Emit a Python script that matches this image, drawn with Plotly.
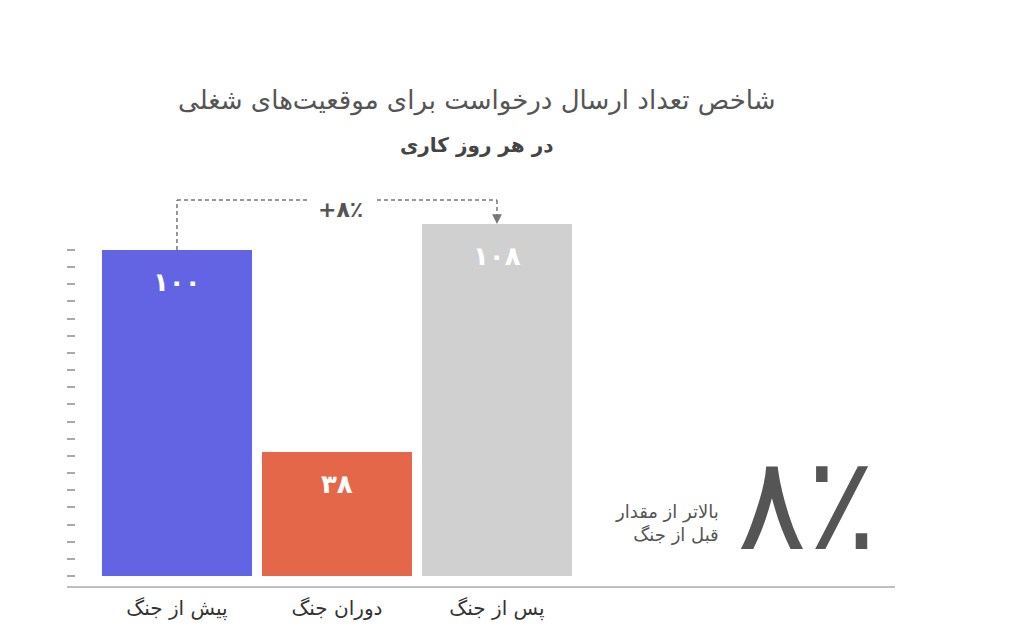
import plotly.graph_objects as go

# ---- data ----
categories = ["پیش از جنگ", "دوران جنگ", "پس از جنگ"]
values = [100, 38, 108]
value_labels = ["۱۰۰", "۳۸", "۱۰۸"]
change_label = "\u200e+۸٪"
big_label = "۸٪"
side_text = "بالاتر از مقدار<br>قبل از جنگ"
title_line1 = "شاخص تعداد ارسال درخواست برای موقعیت‌های شغلی"
title_line2 = "در هر روز کاری"

# ---- style ----
colors = ["#6264E4", "#E5674A", "#D0D0D0"]
FONT = "DejaVu Sans"
GRAY = "#555555"
xpos = list(range(len(categories)))
CONNECT_Y = 115.3

fig = go.Figure()
fig.add_trace(go.Bar(
    x=xpos, y=values, width=0.9375,
    marker=dict(color=colors, line=dict(width=0)),
    hoverinfo="skip",
))

annotations = []
for xi, v, lab in zip(xpos, values, value_labels):
    annotations.append(dict(
        x=xi, y=v, xref="x", yref="y", text=lab, showarrow=False,
        yanchor="middle", yshift=-32,
        font=dict(family=FONT, size=26, color="white", weight="bold"),
    ))

# title
annotations.append(dict(x=0.4895, y=1.0, xref="paper", yref="paper", text=title_line1,
                        showarrow=False, yanchor="middle",
                        font=dict(family=FONT, size=26, color=GRAY)))
annotations.append(dict(x=0.4895, y=0.9076, xref="paper", yref="paper", text=title_line2,
                        showarrow=False, yanchor="middle",
                        font=dict(family=FONT, size=20, color="#444444", weight="bold")))

# change label
annotations.append(dict(x=1.02, y=CONNECT_Y, xref="x", yref="y", text=change_label,
                        showarrow=False, yanchor="middle", yshift=-9,
                        font=dict(family=FONT, size=22, color=GRAY, weight="bold")))
# arrow head
annotations.append(dict(x=2, y=values[2], xref="x", yref="y", ax=2, ay=values[2] + 2,
                        axref="x", ayref="y", text="", showarrow=True,
                        arrowhead=2, arrowsize=1.3, arrowwidth=1.5, arrowcolor="#777777"))

# big 8%
annotations.append(dict(x=0.893, y=0.17, xref="paper", yref="paper", text=big_label,
                        showarrow=False, yanchor="middle", xanchor="center",
                        font=dict(family=FONT, size=130, color=GRAY)))
annotations.append(dict(x=0.788, y=0.131, xref="paper", yref="paper", text=side_text,
                        showarrow=False, yanchor="middle", xanchor="right", align="right",
                        font=dict(family=FONT, size=18, color=GRAY)))

dash_line = dict(color="#777777", width=1.5, dash="4px,3px")
shapes = [
    dict(type="line", xref="x", yref="y", x0=0, x1=0, y0=values[0], y1=CONNECT_Y, line=dash_line),
    dict(type="line", xref="x", yref="y", x0=0, x1=0.8125, y0=CONNECT_Y, y1=CONNECT_Y, line=dash_line),
    dict(type="line", xref="x", yref="y", x0=1.25, x1=2, y0=CONNECT_Y, y1=CONNECT_Y, line=dash_line),
    dict(type="line", xref="x", yref="y", x0=2, x1=2, y0=CONNECT_Y, y1=values[2] + 2, line=dash_line),
    # baseline
    dict(type="line", xref="paper", yref="paper", x0=-0.011, x1=1.0, y0=0, y1=0,
         line=dict(color="#AAAAAA", width=1.5)),
]

fig.update_layout(
    width=1024, height=640,
    margin=dict(l=68, r=137, t=92, b=61),
    paper_bgcolor="white", plot_bgcolor="white",
    showlegend=False,
    annotations=annotations, shapes=shapes,
    font=dict(family=FONT),
    xaxis=dict(range=[-0.631, 4.4875], tickvals=xpos, ticktext=categories,
               showgrid=False, zeroline=False, showline=False, ticks="",
               ticklabelstandoff=7,
               tickfont=dict(family=FONT, size=20, color="#333333")),
    yaxis=dict(range=[-3.374, 146.0], showgrid=False, zeroline=False, showline=False,
               ticks="outside", ticklen=8,
               tickwidth=1.5, tickcolor="#AAAAAA", showticklabels=False,
               tickmode="array", tickvals=[i * 100 / 19 for i in range(20)]),
)

fig.write_html("out.html")
